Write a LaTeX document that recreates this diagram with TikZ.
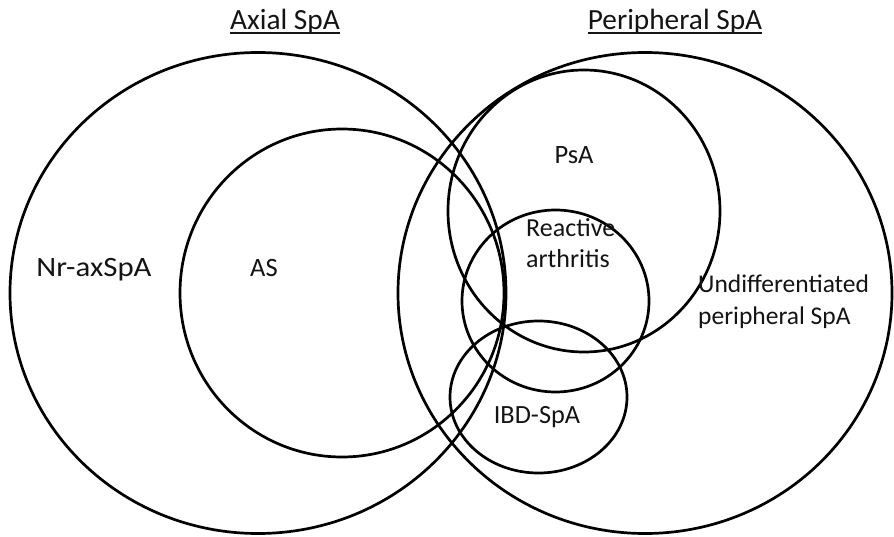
\documentclass[tikz,border=0pt]{standalone}
\usepackage{fontspec}
\setmainfont{Carlito}
\usetikzlibrary{shapes.geometric}
\begin{document}
\begin{tikzpicture}[x=1pt,y=-1pt,
  ring/.style={draw=black, line width=2.7pt, ellipse, inner sep=0pt},
  lbl/.style={inner sep=0pt, text=black!92},
  lblL/.style={lbl, anchor=base west, align=left},
  lblC/.style={lbl, anchor=base},
  uline/.style={draw=black!92, line width=1.8pt}]
\useasboundingbox (0,0) rectangle (894,537);
\node[ring, minimum width=496pt, minimum height=481pt] (axial) at (258,293) {};
\node[ring, minimum width=324pt, minimum height=328pt] (as) at (342,293) {};
\node[ring, minimum width=494pt, minimum height=481pt] (periph) at (645,293) {};
\node[ring, minimum width=272pt, minimum height=282pt] (psa) at (584,211) {};
\node[ring, minimum width=187pt, minimum height=182pt] (react) at (555.5,301) {};
\node[ring, minimum width=177pt, minimum height=152pt] (ibd) at (538.5,397) {};
\node[lblC, font=\fontsize{29.3}{35}\selectfont] (taxial) at (285,30) {Axial SpA};
\node[lblC, font=\fontsize{29.3}{35}\selectfont] (tperiph) at (675,30) {Peripheral SpA};
\draw[uline] ([yshift=-2.8pt]taxial.base west) -- ([yshift=-2.8pt]taxial.base east);
\draw[uline] ([yshift=-2.8pt]tperiph.base west) -- ([yshift=-2.8pt]tperiph.base east);
\node[lblC, font=\fontsize{28}{34}\selectfont] (tnr) at (94,277) {\scalebox{1.1}[1]{Nr-axSpA}};
\node[lblC, font=\fontsize{26.5}{31.5}\selectfont] (tas) at (264,277) {AS};
\node[lblC, font=\fontsize{26.5}{31.5}\selectfont] (tpsa) at (574,164) {PsA};
\node[lblL, font=\fontsize{26}{31}\selectfont] (treact) at (526,268) {Reactive\\arthritis};
\node[lblL, font=\fontsize{25.5}{32}\selectfont] (tundiff) at (698,324) {Undifferentiated\\peripheral SpA};
\node[lblC, font=\fontsize{26.3}{31.5}\selectfont] (tibd) at (537,423) {IBD-SpA};
\end{tikzpicture}
\end{document}
